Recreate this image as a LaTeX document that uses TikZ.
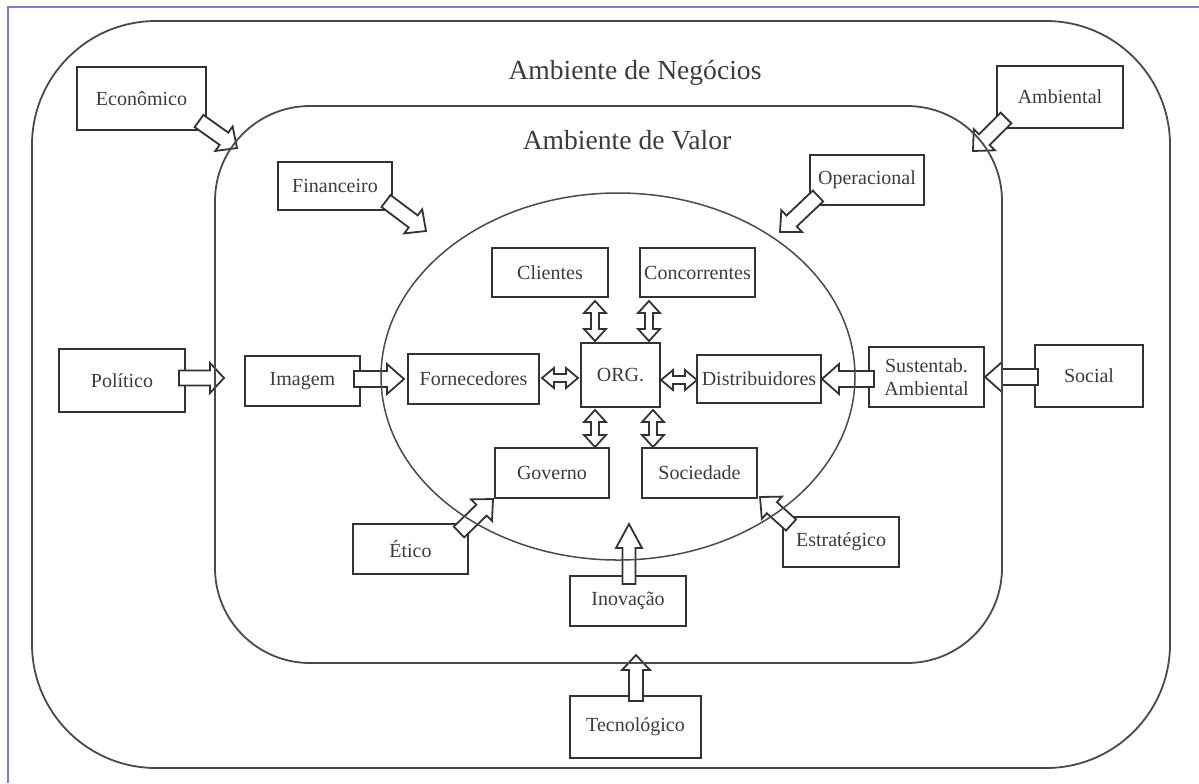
\documentclass[tikz,border=0pt]{standalone}
\usepackage{fontspec}
\setmainfont{Liberation Serif}
\usetikzlibrary{calc,shapes.geometric}
\definecolor{ln}{HTML}{333333}
\definecolor{envln}{HTML}{4A4A4A}
\definecolor{txt}{HTML}{3C3C3C}
\definecolor{frm}{HTML}{7A7FD6}
\tikzset{
  box/.style={draw=ln, line width=1.1pt, fill=white, inner sep=0pt, text=txt,
    font=\fontsize{10}{11.5}\selectfont, align=center},
  blk/.style={draw=ln, line width=0.9pt, fill=white, line join=miter},
  envbox/.style={draw=envln, line width=0.9pt, inner sep=0pt},
  ttl/.style={text=txt, font=\fontsize{13.8}{16}\selectfont, inner sep=0pt}
}
% single block arrow: tail, tip, half shaft, half head, head length
\newcommand\blockarr[5]{%
  \coordinate (ah) at ($(#2)!#5!(#1)$);
  \draw[blk] ($(#1)!#3!90:(#2)$) -- ($(ah)!#3!90:(#2)$) -- ($(ah)!#4!90:(#2)$) -- (#2)
    -- ($(ah)!#4!-90:(#2)$) -- ($(ah)!#3!-90:(#2)$) -- ($(#1)!#3!-90:(#2)$) -- cycle;}
% double block arrow
\newcommand\dblarr[5]{%
  \coordinate (dha) at ($(#1)!#5!(#2)$);
  \coordinate (dhb) at ($(#2)!#5!(#1)$);
  \draw[blk] (#1) -- ($(dha)!#4!90:(#2)$) -- ($(dha)!#3!90:(#2)$) -- ($(dhb)!#3!90:(#2)$)
    -- ($(dhb)!#4!90:(#2)$) -- (#2) -- ($(dhb)!#4!-90:(#2)$) -- ($(dhb)!#3!-90:(#2)$)
    -- ($(dha)!#3!-90:(#2)$) -- ($(dha)!#4!-90:(#2)$) -- cycle;}
\begin{document}
\begin{tikzpicture}[x=0.5pt, y=-0.5pt]
\useasboundingbox (0,0) rectangle (1199,783);
\fill[white] (0,0) rectangle (1199,783);
\draw[frm, line width=0.8pt] (8,783) -- (8,7) -- (1199,7);

% titles
\node[ttl] (tneg) at (635,73) {Ambiente de Negócios};
\node[ttl] (tval) at (627,140) {Ambiente de Valor};

% boxes
\node[box, minimum width=64.5pt, minimum height=31.5pt] (econ) at (141.5,98.5) {Econômico};
\node[box, minimum width=63pt, minimum height=31pt] (ambt) at (1060,97) {Ambiental};
\node[box, minimum width=57pt, minimum height=24pt] (fin) at (335,186) {Financeiro};
\node[box, minimum width=57pt, minimum height=25pt] (oper) at (867,180) {Operacional};
\node[box, minimum width=58pt, minimum height=24.5pt] (cli) at (550,272.5) {Clientes};
\node[box, minimum width=57.5pt, minimum height=24.5pt] (conc) at (697.5,272.5) {Concorrentes};
\node[box, minimum width=57.5pt, minimum height=25pt] (img) at (302.5,381) {Imagem};
\node[box, minimum width=65.5pt, minimum height=25pt] (forn) at (473.5,379) {Fornecedores};
\node[box, minimum width=39.5pt, minimum height=32pt] (org) at (620.5,375) {ORG.};
\node[box, minimum width=62pt, minimum height=24pt] (dist) at (759,379) {Distribuidores};
\node[box, minimum width=57.5pt, minimum height=30pt] (sust) at (926.5,377) {Sustentab.\\Ambiental};
\node[box, minimum width=63pt, minimum height=31.5pt] (pol) at (122,380.5) {Político};
\node[box, minimum width=54pt, minimum height=31pt] (soc) at (1089,376) {Social};
\node[box, minimum width=57pt, minimum height=25pt] (gov) at (552,473) {Governo};
\node[box, minimum width=57.5pt, minimum height=25pt] (socd) at (699.5,473) {Sociedade};
\node[box, minimum width=57.5pt, minimum height=25pt] (etic) at (410.5,549) {Ético};
\node[box, minimum width=58pt, minimum height=25pt] (estr) at (841,542) {Estratégico};
\node[box, minimum width=58pt, minimum height=25pt] (inov) at (628,601) {Inovação};
\node[box, minimum width=65.5pt, minimum height=31pt] (tec) at (635.5,727) {Tecnológico};

% arrow end points
\coordinate (econT) at (199,121);  \coordinate (econH) at (237,148);
\coordinate (ambtT) at (1006,118); \coordinate (ambtH) at (973,151);
\coordinate (finT) at (386,201);   \coordinate (finH) at (426,231);
\coordinate (operT) at (818,196);  \coordinate (operH) at (780,232);
\coordinate (polT) at (179,378);   \coordinate (polH) at (224,378);
\coordinate (imgT) at (354,379);   \coordinate (imgH) at (404,379);
\coordinate (sustT) at (874,379);  \coordinate (sustH) at (822,379);
\coordinate (socT) at (1038,377);  \coordinate (socH) at (985,377);
\coordinate (eticT) at (459,532);  \coordinate (eticH) at (493,499);
\coordinate (estrT) at (791,525);  \coordinate (estrH) at (760,497);
\coordinate (inovT) at (629,584);  \coordinate (inovH) at (629,524);
\coordinate (tecT) at (636,701);   \coordinate (tecH) at (636,655);
\coordinate (fo1) at (542,378);    \coordinate (fo2) at (578,378);
\coordinate (di1) at (661,380);    \coordinate (di2) at (697,380);
\coordinate (cl1) at (595,301);    \coordinate (cl2) at (595,341);
\coordinate (co1) at (649,301);    \coordinate (co2) at (649,341);
\coordinate (go1) at (595,410);    \coordinate (go2) at (595,447);
\coordinate (so1) at (653,410);    \coordinate (so2) at (653,447);

\blockarr{econT}{econH}{3.75pt}{7.5pt}{8pt}
\blockarr{ambtT}{ambtH}{3.75pt}{7.5pt}{8pt}
\blockarr{finT}{finH}{3.75pt}{7.5pt}{8pt}
\blockarr{operT}{operH}{3.75pt}{7.5pt}{8pt}
\blockarr{polT}{polH}{3.75pt}{7.5pt}{7pt}
\blockarr{imgT}{imgH}{4pt}{7.5pt}{8.5pt}
\blockarr{sustT}{sustH}{4pt}{7.5pt}{8.5pt}
\blockarr{socT}{socH}{4pt}{7.5pt}{8.5pt}
\blockarr{eticT}{eticH}{3.75pt}{7.5pt}{8pt}
\blockarr{estrT}{estrH}{3.75pt}{7.5pt}{8pt}
\blockarr{inovT}{inovH}{3.25pt}{6.5pt}{12pt}
\blockarr{tecT}{tecH}{3.5pt}{7pt}{7.5pt}
\dblarr{fo1}{fo2}{2pt}{5pt}{6pt}
\dblarr{di1}{di2}{2pt}{5pt}{6pt}
\dblarr{cl1}{cl2}{2pt}{5.5pt}{6pt}
\dblarr{co1}{co2}{2pt}{5.5pt}{6pt}
\dblarr{go1}{go2}{2pt}{5.5pt}{6pt}
\dblarr{so1}{so2}{2pt}{5.5pt}{6pt}

% environments
\node[envbox, ellipse, line width=0.75pt, minimum width=237pt, minimum height=183.5pt] (ell) at (618,376.5) {};
\node[envbox, rectangle, rounded corners=47.5pt, minimum width=393.5pt, minimum height=278.5pt] (valor) at (608.5,384.5) {};
\node[envbox, rectangle, rounded corners=62pt, minimum width=569pt, minimum height=373.5pt] (negocios) at (601,394.5) {};
\end{tikzpicture}
\end{document}
